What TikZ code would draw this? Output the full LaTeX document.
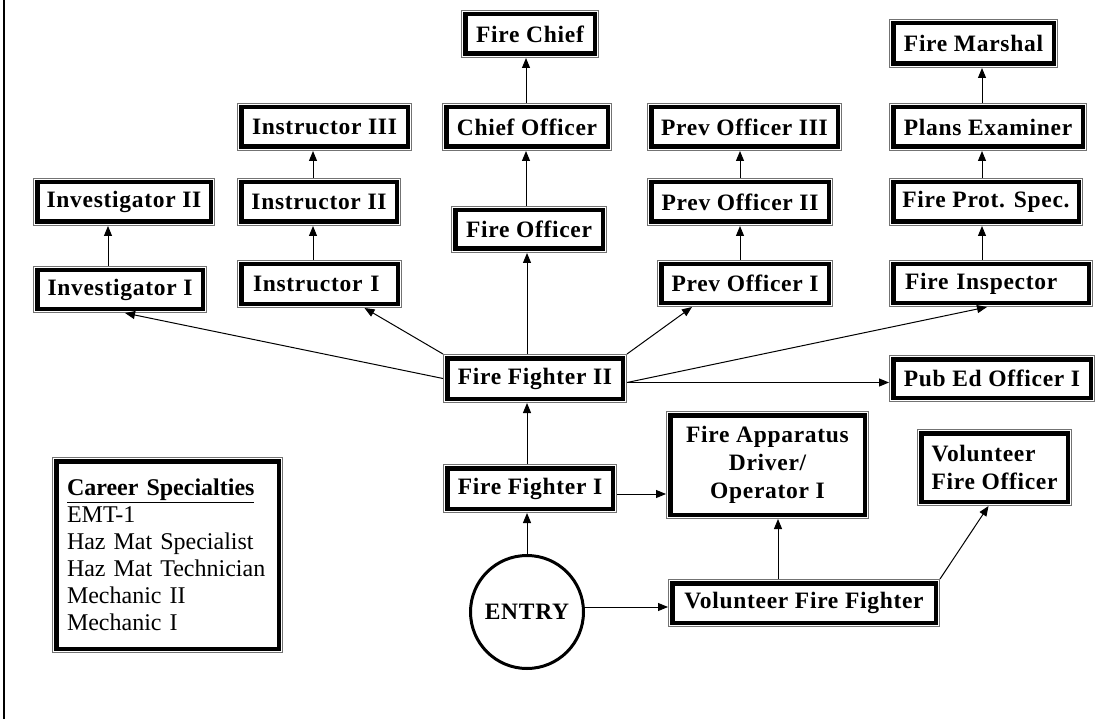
\documentclass[tikz,border=0pt]{standalone}
\usepackage{fontspec}
\setmainfont{Liberation Serif}
\newfontfamily\boxfam[LetterSpace=3]{Liberation Serif}
\usetikzlibrary{arrows.meta,calc}

\newcommand\boxfont{\boxfam\fontsize{23.5}{28}\selectfont\bfseries}

\begin{document}
\begin{tikzpicture}[x=1pt, y=-1pt,
    box/.style={draw=black, fill=white, line width=4.5pt, outer sep=4.25pt, inner sep=0pt,
        align=center, font=\boxfont, minimum height=39.5pt,
        preaction={draw=black!55, line width=8.5pt},
        preaction={draw=white, line width=6.5pt}},
    lbox/.style={box, align=left, inner xsep=11.75pt},
    arr/.style={-{Triangle[length=10pt,width=8pt]}, line width=1pt, black}]

        \useasboundingbox (0,0) rectangle (1105,719);

        %frame
        \draw[line width=2pt] (4.3,0) -- (4.3,719);

        %top of the ladder
        \node[box, minimum width=129.5pt] (chief) at (530,34) {Fire Chief};
        \node[box, minimum width=161.5pt] (chiefoff) at (527,127) {Chief Officer};
        \node[box, minimum width=147.5pt, minimum height=38.5pt] (fireoff) at (529,229.5) {Fire Officer};

        %instructors + investigators
        \node[box, minimum width=166.5pt] (ins3) at (324.5,127) {Instructor III};
        \node[box, minimum width=155.5pt] (ins2) at (319,202) {Instructor II};
        \node[lbox, text width=133pt] (ins1) at (319.5,284) {Instructor I};
        \node[box, minimum width=173.5pt] (inv2) at (124,202) {Investigator II};
        \node[box, minimum width=165.5pt, minimum height=38.5pt] (inv1) at (120,289.5) {Investigator I};

        %prevention
        \node[box, minimum width=186.5pt] (prev3) at (744.5,127) {Prev Officer III};
        \node[box, minimum width=177.5pt] (prev2) at (740,202) {Prev Officer II};
        \node[box, minimum width=167.5pt, minimum height=38.5pt] (prev1) at (745,283.5) {Prev Officer I};

        %marshal line
        \node[box, minimum width=160.5pt, minimum height=40.5pt] (marshal) at (973.5,43.5) {Fire Marshal};
        \node[box, minimum width=189.5pt] (plans) at (988,127) {Plans Examiner};
        \node[box, minimum width=185.5pt] (protspec) at (986,202) {Fire Prot. Spec.};
        \node[lbox, text width=172pt, minimum height=38.5pt] (inspector) at (991,283.5) {Fire Inspector};
        \node[box, minimum width=197.5pt, minimum height=38.5pt] (pubed) at (992,378.5) {Pub Ed Officer I};

        %fire fighters
        \node[box, minimum width=175.5pt, minimum height=40.5pt] (ff2) at (535,378.5) {Fire Fighter II};
        \node[box, minimum width=165.5pt, minimum height=40.5pt] (ff1) at (530,488.5) {Fire Fighter I};
        \node[box, minimum width=194.5pt, minimum height=99.5pt] (app) at (767.5,465) {Fire Apparatus\\Driver/\\Operator I};
        \node[box, align=left, minimum width=146.5pt, minimum height=68.5pt] (volofficer) at (994.5,467.5) {Volunteer\\Fire Officer};
        \node[box, minimum width=263.5pt] (volff) at (804,603) {Volunteer Fire Fighter};
        \node[draw, circle, line width=3pt, minimum size=113pt, outer sep=1.5pt, font=\boxfont] (entry) at (527,612) {ENTRY};

        %specialties
        \node[lbox, inner xsep=10.75pt, text width=201pt, minimum height=187.5pt,
              font=\fontsize{24}{27}\selectfont] (career) at (167.5,555)
        {\underline{\textbf{Career Specialties}}\\EMT-1\\Haz Mat Specialist\\Haz Mat Technician\\Mechanic II\\Mechanic I};

        %vertical arrows
        \draw[arr] ([xshift=-12pt]inv1.north) -- ([xshift=-12pt]inv1.north |- inv2.south);
        \draw[arr] ([xshift=-6.5pt]ins1.north) -- ([xshift=-6.5pt]ins1.north |- ins2.south);
        \draw[arr] ([xshift=-6pt]ins2.north) -- ([xshift=-6pt]ins2.north |- ins3.south);
        \draw[arr] ([xshift=-3pt]fireoff.north) -- ([xshift=-3pt]fireoff.north |- chiefoff.south);
        \draw[arr] ([xshift=-1pt]chiefoff.north) -- ([xshift=-1pt]chiefoff.north |- chief.south);
        \draw[arr] ([xshift=-5pt]prev1.north) -- ([xshift=-5pt]prev1.north |- prev2.south);
        \draw[arr] (prev2.north) -- (prev2.north |- prev3.south);
        \draw[arr] ([xshift=-9pt]inspector.north) -- ([xshift=-9pt]inspector.north |- protspec.south);
        \draw[arr] ([xshift=-4pt]protspec.north) -- ([xshift=-4pt]protspec.north |- plans.south);
        \draw[arr] ([xshift=-6pt]plans.north) -- ([xshift=-6pt]plans.north |- marshal.south);
        \draw[arr] ([xshift=-8pt]ff2.north) -- ([xshift=-8pt]ff2.north |- fireoff.south);
        \draw[arr] ([xshift=-3pt]ff1.north) -- ([xshift=-3pt]ff1.north |- ff2.south);
        \draw[arr] (entry.north) -- (entry.north |- ff1.south);
        \draw[arr] ([xshift=-26pt]volff.north) -- ([xshift=-26pt]volff.north |- app.south);

        %fan out of fire fighter II
        \draw[arr] (ff2.west) -- ([xshift=5pt]inv1.south);
        \draw[arr] (ff2.north west) -- ([xshift=45pt]ins1.south);
        \draw[arr] (ff2.north east) -- ([xshift=-53pt]prev1.south);
        \draw[arr] ([yshift=-4pt]ff2.east) -- ([xshift=-4pt]inspector.south);
        \draw[arr] ([yshift=-4pt]ff2.east) -- ([yshift=-4pt]ff2.east -| pubed.west);

        %horizontal arrows
        \draw[arr] ([yshift=-5.5pt]ff1.east) -- ([yshift=-5.5pt]ff1.east -| app.west);
        \draw[arr] ([yshift=5pt]entry.east) -- ([yshift=5pt]entry.east -| volff.west);
        \draw[arr] (volff.north east) -- ([xshift=-6pt]volofficer.south);

\end{tikzpicture}
\end{document}
